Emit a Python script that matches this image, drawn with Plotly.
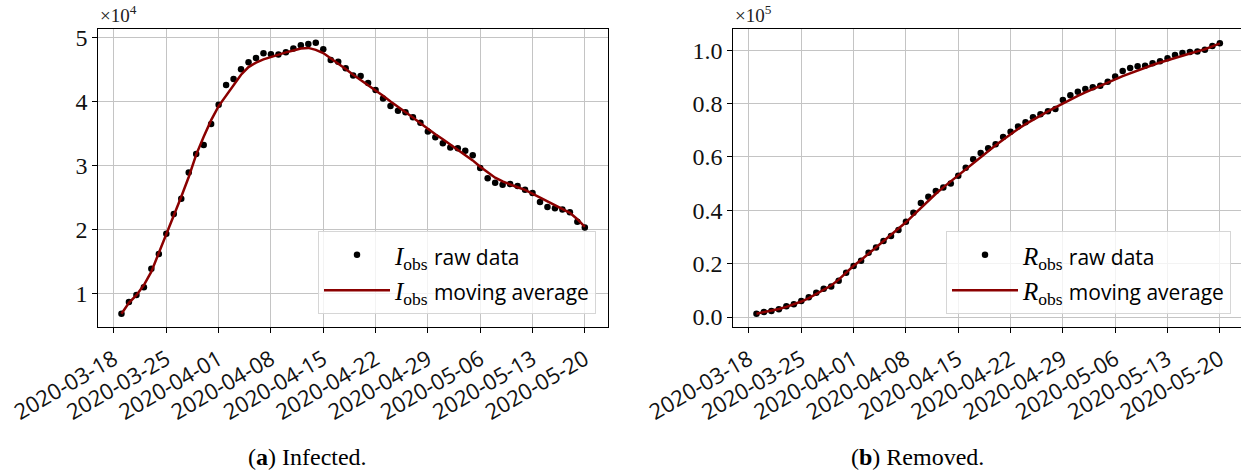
import pandas as pd
import plotly.graph_objects as go

# ---------------- data ----------------
dates = pd.date_range("2020-03-19", "2020-05-20", freq="D").strftime("%Y-%m-%d").tolist()

infected_raw = [6800, 8640, 9730, 10940, 13840, 16140, 19310, 22400, 24780, 28900,
                31800, 33200, 36500, 39500, 42600, 43550, 45060, 46150, 46830, 47560,
                47400, 47350, 47700, 48300, 48800, 49000, 49200, 48200, 46500, 46250,
                45200, 44100, 44000, 42900, 41800, 40500, 39300, 38550, 38350, 37560,
                36700, 35300, 34400, 33500, 32800, 32700, 32300, 31600, 29600, 28000,
                27300, 27000, 27100, 26800, 26200, 25700, 24300, 23500, 23300, 23100,
                22700, 21200, 20300]
infected_ma = [6800, 8500, 9700, 11300, 13400, 16250, 19400, 22200, 25100, 28200,
               31700, 34500, 37100, 39300, 41000, 42500, 44200, 45400, 46100, 46600,
               47000, 47400, 47700, 48000, 48300, 48400, 48100, 47600, 46800, 46000,
               45100, 44200, 43400, 42600, 41800, 40900, 40000, 39200, 38400, 37500,
               36600, 35700, 34900, 34100, 33300, 32500, 31700, 30800, 29800, 28900,
               28100, 27500, 27000, 26600, 26200, 25600, 25100, 24500, 23900, 23300,
               22600, 21600, 20400]

removed_raw = [1250, 1900, 2250, 2900, 4000, 4750, 6000, 7400, 9100, 10600,
               11400, 13600, 16600, 19100, 21100, 24100, 26100, 28500, 30400, 32600,
               35700, 39100, 42700, 45100, 47250, 48600, 50100, 53000, 56000, 59100,
               61500, 63300, 64800, 67500, 69500, 71400, 73000, 74900, 76000, 77100,
               78000, 81400, 83100, 84500, 85500, 86100, 86700, 88200, 90200, 92200,
               93400, 94000, 94200, 95100, 95900, 97000, 98200, 99000, 99400, 99500,
               100200, 101600, 102600]
removed_ma = [1250, 1800, 2400, 3000, 3800, 4700, 5800, 7100, 8600, 10100,
              11800, 14000, 16600, 19200, 21400, 23700, 26000, 28300, 30600, 33000,
              35500, 38200, 41000, 43700, 46200, 48600, 50900, 53100, 55500, 57800,
              60000, 62200, 64400, 66500, 68600, 70500, 72300, 74000, 75600, 77100,
              78600, 80100, 81500, 82900, 84200, 85500, 86700, 87900, 89100, 90300,
              91400, 92500, 93500, 94500, 95400, 96300, 97200, 98000, 98800, 99600,
              100400, 101500, 102600]

x_ticks = ["2020-03-18", "2020-03-25", "2020-04-01", "2020-04-08", "2020-04-15",
           "2020-04-22", "2020-04-29", "2020-05-06", "2020-05-13", "2020-05-20"]
inf_yticks = [10000, 20000, 30000, 40000, 50000]
inf_ytext = ["1", "2", "3", "4", "5"]
rem_yticks = [0, 20000, 40000, 60000, 80000, 100000]
rem_ytext = ["0.0", "0.2", "0.4", "0.6", "0.8", "1.0"]

# ---------------- layout geometry (pixels) ----------------
W, H = 1241, 474
def px(x):
    return x / W
def py(y):
    return 1 - y / H

SERIF = "Liberation Serif"
SANS = "Open Sans"
DARKRED = "#8b0000"

# x ranges: matplotlib-like 5% margin
d0 = pd.Timestamp(dates[0]); d1 = pd.Timestamp(dates[-1])
pad = (d1 - d0) * 0.05
xr0 = d0 - pad
xr1 = d1 + pad
left_l, left_r = 98.3, 608.0
right_l = 733.3
px_per_day = (left_r - left_l) / ((xr1 - xr0) / pd.Timedelta(days=1))
xr1_right = xr0 + pd.Timedelta(days=(W - right_l) / px_per_day)

fmt = lambda t: t.strftime("%Y-%m-%d %H:%M:%S")

fig = go.Figure()

def lbl(sym, rest):
    return (f'<i>{sym}</i><sub>obs</sub> '
            f'<span style="font-family:{SANS};font-size:21px">{rest}</span>')

fig.add_trace(go.Scatter(x=dates, y=infected_raw, mode="markers",
                         marker=dict(color="black", size=6.5),
                         name=lbl("I", "raw data"), xaxis="x", yaxis="y", legend="legend"))
fig.add_trace(go.Scatter(x=dates, y=infected_ma, mode="lines",
                         line=dict(color=DARKRED, width=2.5),
                         name=lbl("I", "moving average"), xaxis="x", yaxis="y", legend="legend"))
fig.add_trace(go.Scatter(x=dates, y=removed_raw, mode="markers",
                         marker=dict(color="black", size=6.5),
                         name=lbl("R", "raw data"), xaxis="x2", yaxis="y2", legend="legend2"))
fig.add_trace(go.Scatter(x=dates, y=removed_ma, mode="lines",
                         line=dict(color=DARKRED, width=2.5),
                         name=lbl("R", "moving average"), xaxis="x2", yaxis="y2", legend="legend2"))

axis_common = dict(showline=True, linecolor="black", linewidth=1.2, mirror=True,
                   showgrid=True, gridcolor="#c4c4c4", gridwidth=1,
                   ticks="outside", ticklen=5, tickcolor="black", tickwidth=1,
                   zeroline=False, automargin=False)
xfont = dict(family=SANS, size=22, color="#111")
yfont = dict(family=SERIF, size=24, color="#111")

ydom = [py(327.0), py(29.3)]

legend_common = dict(xanchor="right", yanchor="bottom",
                     bgcolor="rgba(255,255,255,0.8)", bordercolor="#d6d6d6", borderwidth=1,
                     font=dict(family=SERIF, size=25, color="black"), itemwidth=66)

fig.update_layout(
    width=W, height=H,
    margin=dict(l=0, r=0, t=0, b=0),
    paper_bgcolor="white", plot_bgcolor="white",
    showlegend=True,
    xaxis=dict(domain=[px(left_l), px(left_r)], range=[fmt(xr0), fmt(xr1)],
               type="date", tickvals=x_ticks, ticktext=x_ticks, tickangle=-30,
               ticklabelstandoff=5, anchor="y", tickfont=xfont, **axis_common),
    yaxis=dict(domain=ydom, range=[4730, 51310], tickvals=inf_yticks, ticktext=inf_ytext,
               anchor="x", tickfont=yfont, **axis_common),
    xaxis2=dict(domain=[px(right_l), 1.0], range=[fmt(xr0), fmt(xr1_right)],
                type="date", tickvals=x_ticks, ticktext=x_ticks, tickangle=-30,
                ticklabelstandoff=5, anchor="y2", tickfont=xfont, **axis_common),
    yaxis2=dict(domain=ydom, range=[-3750, 107870], tickvals=rem_yticks, ticktext=rem_ytext,
                anchor="x2", tickfont=yfont, **axis_common),
    legend=dict(x=px(596), y=py(314), **legend_common),
    legend2=dict(x=px(1231), y=py(314), **legend_common),
    annotations=[
        dict(text="×10<sup>4</sup>", x=px(98), y=py(28), xref="paper", yref="paper",
             xanchor="left", yanchor="bottom", showarrow=False,
             font=dict(family=SERIF, size=19, color="#222")),
        dict(text="×10<sup>5</sup>", x=px(733), y=py(28), xref="paper", yref="paper",
             xanchor="left", yanchor="bottom", showarrow=False,
             font=dict(family=SERIF, size=19, color="#222")),
        dict(text="(<b>a</b>) Infected.", x=px(307), y=py(457), xref="paper", yref="paper",
             xanchor="center", yanchor="middle", showarrow=False,
             font=dict(family=SERIF, size=24, color="black")),
        dict(text="(<b>b</b>) Removed.", x=px(917), y=py(457), xref="paper", yref="paper",
             xanchor="center", yanchor="middle", showarrow=False,
             font=dict(family=SERIF, size=24, color="black")),
    ],
)

fig.write_html("out.html")
